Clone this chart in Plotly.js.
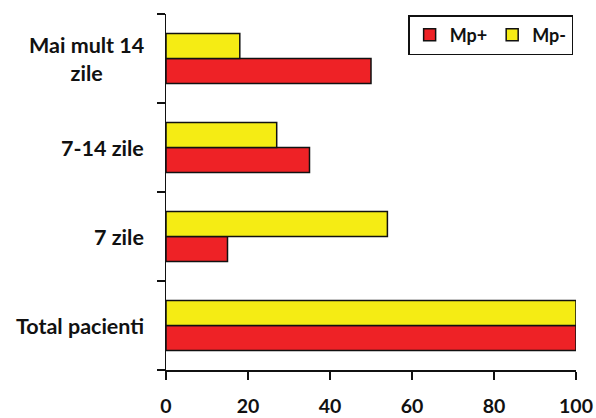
<!DOCTYPE html>
<html>
<head>
<meta charset="utf-8">
<script src="https://cdn.plot.ly/plotly-3.0.1.min.js"></script>
<style>html,body{margin:0;padding:0;background:#fff;}#chart{width:596px;height:418px;}</style>
</head>
<body>
<div id="chart"></div>
<script>
const categories = ["Total pacienti", "7 zile", "7-14 zile", "Mai mult 14<br>zile"];
const mpPlus = [100, 15, 35, 50];
const mpMinus = [100, 54, 27, 18];
const seriesNames = ["Mp+", "Mp-"];
const xTicks = [0, 20, 40, 60, 80, 100];

const FONT = "Lato, 'Open Sans', 'DejaVu Sans', sans-serif";

const traces = [
  {type: 'bar', orientation: 'h', name: '<b>' + seriesNames[0] + '</b>', y: categories, x: mpPlus,
   marker: {color: '#EE2226', line: {color: '#111', width: 1.5}}},
  {type: 'bar', orientation: 'h', name: '<b>' + seriesNames[1] + '</b>', y: categories, x: mpMinus,
   marker: {color: '#F5EC14', line: {color: '#111', width: 1.5}}}
];

const annotations = categories.map(c => ({
  xref: 'paper', yref: 'y', x: -0.048, y: c, xanchor: 'right', yanchor: 'middle',
  text: '<b>' + c + '</b>', showarrow: false, align: 'center',
  font: {family: FONT, size: 21.5, color: '#111'}
}));

const layout = {
  width: 596, height: 418,
  margin: {l: 166, r: 20, t: 14, b: 48},
  paper_bgcolor: '#fff', plot_bgcolor: '#fff',
  barmode: 'group', bargap: 0.44, bargroupgap: 0,
  showlegend: true,
  legend: {orientation: 'h', x: 0.993, y: 0.997, xanchor: 'right', yanchor: 'top',
    bordercolor: '#111', borderwidth: 1.5, bgcolor: '#fff',
    font: {family: FONT, size: 18, color: '#111'},
    traceorder: 'normal', itemwidth: 30},
  xaxis: {range: [0, 100], tickvals: xTicks, ticktext: xTicks.map(String),
    automargin: false,
    showgrid: false, zeroline: false, showline: true, linecolor: '#111', linewidth: 1.5,
    ticks: 'outside', ticklen: 8, tickwidth: 1.5, tickcolor: '#111',
    ticklabelstandoff: 10,
    tickfont: {family: FONT, size: 19.5, color: '#111', weight: 'bold'}, fixedrange: true},
  yaxis: {type: 'category', categoryorder: 'array', categoryarray: categories,
    range: [-0.5, 3.5], showticklabels: false, automargin: false,
    tickson: 'boundaries', ticks: 'outside', ticklen: 8, tickwidth: 1.5, tickcolor: '#111',
    showgrid: false, zeroline: false, showline: true, linecolor: '#111', linewidth: 1.5},
  annotations: annotations
};

Plotly.newPlot('chart', traces, layout, {staticPlot: true, displayModeBar: false});
</script>
</body>
</html>
